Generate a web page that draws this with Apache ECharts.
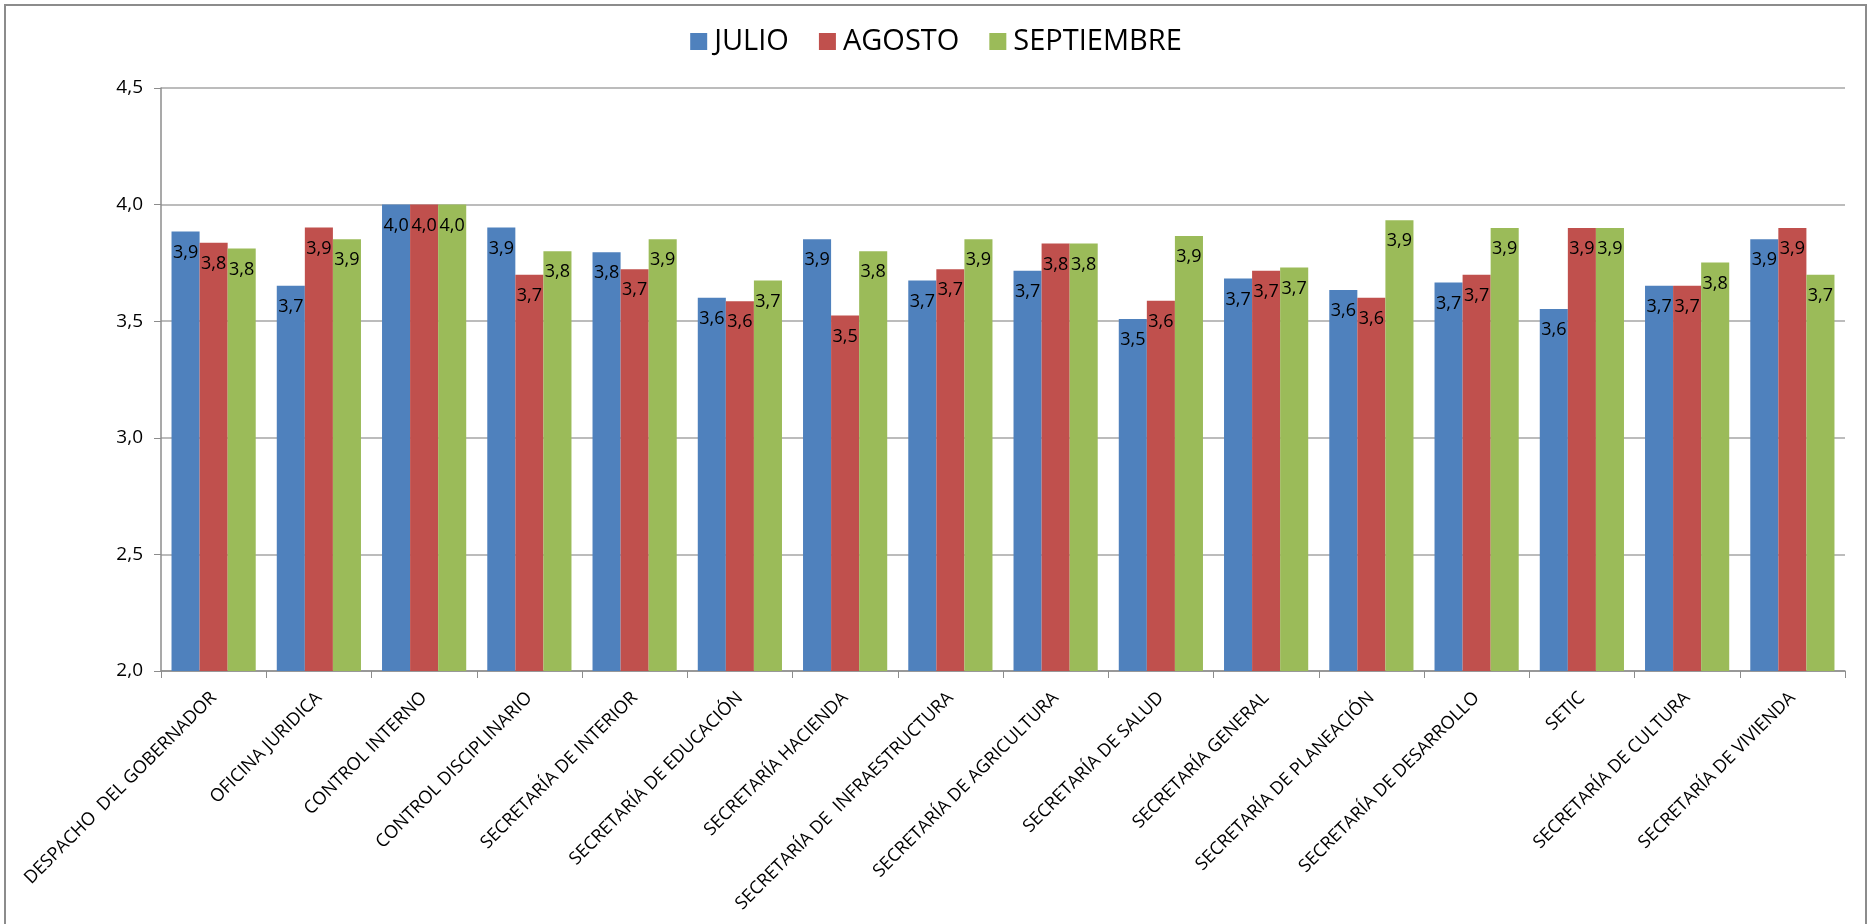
<!DOCTYPE html>
<html>
<head>
<meta charset="utf-8">
<script src="https://cdn.jsdelivr.net/npm/echarts@6/dist/echarts.min.js"></script>
<style>html,body{margin:0;padding:0;background:#fff}#c{width:1872px;height:924px}</style>
</head>
<body>
<div id="c"></div>
<script>
var categories = ["DESPACHO  DEL GOBERNADOR","OFICINA JURIDICA","CONTROL INTERNO","CONTROL DISCIPLINARIO","SECRETARÍA DE INTERIOR","SECRETARÍA DE EDUCACIÓN","SECRETARÍA HACIENDA","SECRETARÍA DE  INFRAESTRUCTURA","SECRETARÍA DE AGRICULTURA","SECRETARÍA DE SALUD","SECRETARÍA GENERAL","SECRETARÍA DE PLANEACIÓN","SECRETARÍA DE DESARROLLO","SETIC","SECRETARÍA DE CULTURA","SECRETARÍA DE VIVIENDA"];
var seriesNames = ["JULIO","AGOSTO","SEPTIEMBRE"];
var julio = [3.885,3.652,4.0,3.902,3.796,3.601,3.851,3.674,3.716,3.509,3.683,3.634,3.666,3.552,3.652,3.851];
var agosto = [3.836,3.902,4.0,3.699,3.723,3.586,3.524,3.723,3.833,3.588,3.716,3.601,3.699,3.900,3.652,3.900];
var septiembre = [3.812,3.851,4.0,3.800,3.851,3.674,3.800,3.851,3.833,3.865,3.730,3.933,3.900,3.900,3.752,3.699];
var yTicks = {min:2.0, max:4.5, interval:0.5};
var colors = ["#4F81BD","#C0504D","#9BBB59"];

var FONT = "Open Sans";
function fmt(v){ return Number(v).toFixed(1).replace('.', ','); }
function mkSeries(name, data, color){
  return {
    name: name, type: 'bar', data: data, barGap: '0%', barCategoryGap: '20%',
    itemStyle: {color: color},
    label: {show: true, position: 'insideTop', distance: 12, color: '#000', fontFamily: FONT, fontSize: 18,
      formatter: function(p){ return fmt(p.value); }}
  };
}
var chart = echarts.init(document.getElementById('c'));
chart.setOption({
  animation: false,
  color: colors,
  graphic: [{type:'rect', shape:{x:5,y:5,width:1861,height:960}, style:{fill:'none', stroke:'#8c8c8c', lineWidth:2}, silent:true}],
  legend: {
    top: 22, left: 'center', itemWidth: 17, itemHeight: 17, itemGap: 30,
    icon: 'rect',
    textStyle: {fontFamily: FONT, fontSize: 29, color: '#000', padding:[0,0,0,2]},
    data: seriesNames
  },
  grid: {left: 161, right: 27, top: 88, bottom: 253, containLabel: false},
  xAxis: {
    type: 'category', data: categories,
    axisLine: {lineStyle: {color: '#8c8c8c', width: 1.5}},
    axisTick: {show: true, length: 7, lineStyle: {color: '#8c8c8c'}},
    axisLabel: {rotate: 45, interval: 0, margin: 24, color: '#000', fontFamily: FONT, fontSize: 18}
  },
  yAxis: {
    type: 'value', min: yTicks.min, max: yTicks.max, interval: yTicks.interval,
    axisLine: {show: true, lineStyle: {color: '#8c8c8c', width: 1.5}},
    axisTick: {show: true, length: 7, lineStyle: {color: '#8c8c8c'}},
    splitLine: {show: true, lineStyle: {color: '#a6a6a6', width: 1.5}},
    axisLabel: {margin: 18, color: '#000', fontFamily: FONT, fontSize: 19, formatter: function(v){ return fmt(v); }}
  },
  series: [mkSeries(seriesNames[0], julio, colors[0]), mkSeries(seriesNames[1], agosto, colors[1]), mkSeries(seriesNames[2], septiembre, colors[2])]
});
</script>
</body>
</html>
